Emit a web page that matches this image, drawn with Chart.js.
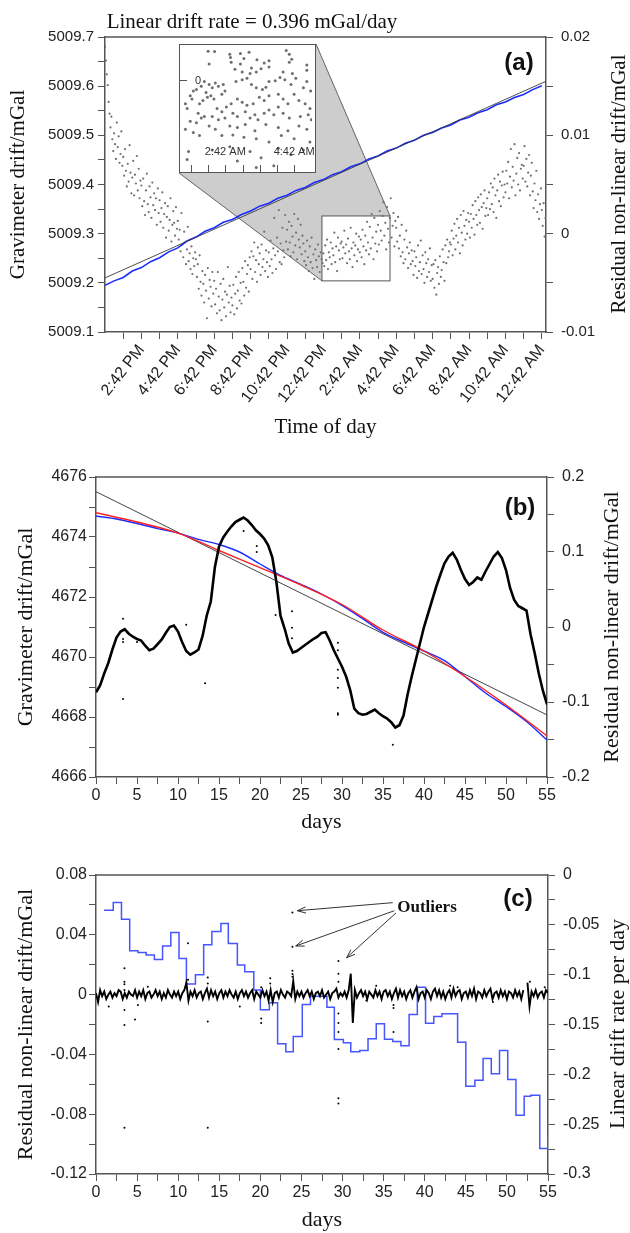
<!DOCTYPE html>
<html>
<head>
<meta charset="utf-8">
<script src="https://cdn.jsdelivr.net/npm/chart.js@4.4.1/dist/chart.umd.min.js"></script>
<style>
  html, body { margin: 0; padding: 0; background: #fff; }
  body { position: relative; width: 630px; height: 1233px; overflow: hidden; }
  canvas { position: absolute; left: 0; }
  .lbl { position: absolute; white-space: nowrap; transform: translate(-50%, -50%); color: #111; line-height: 1; }
  .serif { font-family: 'Liberation Serif', 'Times New Roman', serif; }
  .sans { font-family: 'Liberation Sans', Arial, sans-serif; }
  .up { transform: translate(-50%, -50%) rotate(-90deg); }
</style>
</head>
<body>
<canvas id="chartA" width="630" height="440" style="top:0"></canvas>
<canvas id="chartB" width="630" height="400" style="top:440px"></canvas>
<canvas id="chartC" width="630" height="393" style="top:840px"></canvas>
<canvas id="chartInset" width="10" height="10"></canvas>

<div class="lbl serif" style="left:252px;top:21px;font-size:21px">Linear drift rate = 0.396 mGal/day</div>
<div class="lbl sans" style="left:519px;top:62px;font-size:24px;font-weight:bold">(a)</div>
<div class="lbl serif up" style="left:618px;top:184px;font-size:21px">Residual non-linear drift/mGal</div>
<div class="lbl sans" style="left:520px;top:507px;font-size:24px;font-weight:bold">(b)</div>
<div class="lbl serif up" style="left:611px;top:627px;font-size:22px">Residual non-linear drift/mGal</div>
<div class="lbl sans" style="left:518px;top:898px;font-size:24px;font-weight:bold">(c)</div>
<div class="lbl serif" style="left:427px;top:906px;font-size:17px;font-weight:bold">Outliers</div>
<div class="lbl serif up" style="left:617px;top:1024px;font-size:22px">Linear drift rate per day</div>

<script>
// ---------- panel (a): one day, hours after 12:42 PM ----------
const hourTicksA = [1, 2, 3, 4, 5, 6, 7, 8, 9, 10, 11, 12, 13, 14, 15, 16, 17, 18, 19, 20, 21, 22, 23, 24];
const hourLabelsA = ["", "2:42 PM", "", "4:42 PM", "", "6:42 PM", "", "8:42 PM", "", "10:42 PM", "", "12:42 PM",
  "", "2:42 AM", "", "4:42 AM", "", "6:42 AM", "", "8:42 AM", "", "10:42 AM", "", "12:42 AM"];
const gravTicksA = [5009.1, 5009.15, 5009.2, 5009.25, 5009.3, 5009.35, 5009.4, 5009.45, 5009.5, 5009.55, 5009.6, 5009.65, 5009.7];
const gravLabelsA = ["5009.1", "", "5009.2", "", "5009.3", "", "5009.4", "", "5009.5", "", "5009.6", "", "5009.7"];
const residTicksA = [-0.01, -0.005, 0, 0.005, 0.01, 0.015, 0.02];
const residLabelsA = ["-0.01", "", "0", "", "0.01", "", "0.02"];

const driftStepHours = 0.5;
const driftA = [5009.195, 5009.204, 5009.211, 5009.224, 5009.231, 5009.243, 5009.251, 5009.263, 5009.271, 5009.285,
  5009.293, 5009.305, 5009.312, 5009.323, 5009.329, 5009.339, 5009.346, 5009.356, 5009.362, 5009.372,
  5009.378, 5009.388, 5009.394, 5009.404, 5009.41, 5009.42, 5009.426, 5009.436, 5009.442, 5009.452,
  5009.458, 5009.468, 5009.474, 5009.484, 5009.49, 5009.5, 5009.506, 5009.515, 5009.521, 5009.531,
  5009.537, 5009.546, 5009.552, 5009.562, 5009.568, 5009.577, 5009.583, 5009.593, 5009.601];
const fitHoursA = [0, 24.23];
const fitValuesA = [5009.21, 5009.61];

// residuals in microGal, one reading every 0.05 h
const dotStepHours = 0.05;
const dotResidA = [
  19, 17.6, 16.2, 15.1, 13.4, 12.2, 10.8, 11.9, 9.6, 8.4, 10.2, 9.1, 7.6, 11.3, 8.8, 9.9, 7.2, 8.1, 10.4, 6.9,
  7.8, 5.9, 8.6, 6.4, 4.8, 7.1, 5.3, 9.0, 6.2, 4.1, 5.7, 7.4, 3.9, 6.0, 5.1, 7.9, 4.4, 6.6, 3.6, 5.4,
  4.9, 2.8, 5.6, 3.3, 1.9, 4.4, 6.1, 3.0, 2.2, 4.8, 3.7, 1.6, 5.2, 2.9, 4.1, 2.4, 3.6, 0.9, 4.6, 2.1,
  3.4, 1.2, 2.6, 4.2, 0.6, 2.0, 3.1, -0.4, 1.7, 2.8, 0.3, 1.4, 3.6, -0.8, 0.9, 2.3, 1.1, -0.2, 2.7, 0.5,
  1.3, -0.6, 0.4, -1.8, 2.1, -1.1, -2.4, 0.2, -0.9, -3.1, -1.6, 0.7, -2.8, -2.0, -3.6, -1.3, -4.1, -2.5, -3.3, -1.9,
  -2.6, -4.4, -3.1, -5.6, -2.2, -4.9, -6.3, -3.8, -5.1, -7.0, -4.2, -5.8, -8.6, -3.5, -6.6, -4.7, -5.4, -7.4, -3.9, -6.1,
  -4.8, -7.2, -5.6, -8.1, -3.9, -6.4, -7.8, -5.1, -8.8, -6.7, -4.6, -7.5, -5.9, -8.4, -6.2, -3.4, -7.0, -5.3, -8.0, -6.5,
  -7.3, -5.2, -8.2, -6.1, -4.4, -7.6, -5.8, -3.9, -6.8, -5.0, -7.1, -3.5, -4.9, -6.3, -2.8, -5.5, -4.1, -3.2, -5.9, -2.4,
  -3.6, -1.8, -4.6, -2.3, -0.9, -3.9, -2.7, -4.9, -1.4, -3.1, -2.0, -4.2, -1.1, -3.4, -2.6, 0.2, -3.8, -1.7, -2.9, -4.4,
  -1.9, -3.3, -0.7, -2.6, -4.0, -1.5, 1.6, -2.2, -3.6, -0.4, -1.8, 2.4, -2.9, -1.0, -3.1, 0.6, -1.7, -2.4, 1.9, -0.8,
  0.4, -1.6, 1.2, -0.9, -2.3, 0.8, -0.3, -1.9, 2.0, -1.2, 0.1, -2.6, 1.5, -0.6, -1.4, 0.9, -2.1, -0.2, -1.0, -2.8,
  -1.8, -3.2, -0.7, -2.4, -3.8, -1.3, -2.9, -0.4, -3.5, -2.1, -4.6, -1.6, -2.7, -3.4, -1.1, -2.3, -3.9, -1.9, -2.6, -3.0,
  -2.0, -3.3, -1.2, -2.7, -0.6, -3.6, -1.9, -2.4, -0.9, -3.1, -1.5, -2.2, 0.1, -2.9, -1.3, -3.8, -0.4, -1.7, -2.6, -1.0,
  -0.8, -2.5, -1.4, 0.3, -2.0, -1.1, -3.0, -0.5, -1.8, -2.6, 0.6, -1.5, -3.4, -0.9, -2.2, -1.2, 0.0, -2.8, -1.6, -0.3,
  -1.9, -0.6, -2.4, 0.4, -1.3, -3.1, -0.2, -1.7, 1.2, -0.9, -2.1, 0.7, -1.5, 2.0, -0.4, -2.6, 1.6, -1.0, 0.2, -1.8,
  0.9, -1.1, 2.3, 0.3, -0.7, 1.8, 3.2, -0.2, 1.1, -1.6, 2.7, 0.5, -0.9, 1.6, 3.6, -0.4, 0.8, 2.1, -1.3, 1.3,
  0.6, -0.8, 1.7, -1.5, -0.2, -2.3, 0.9, -1.9, -3.0, -0.6, -2.6, 0.3, -1.4, -3.5, -2.0, -0.9, -3.1, -1.7, -2.8, -4.2,
  -1.8, -3.3, -2.4, -4.5, -1.2, -3.8, -2.9, -0.7, -4.1, -2.2, -3.6, -5.0, -1.9, -3.0, -4.4, -2.6, -3.9, -1.5, -4.8, -3.2,
  -4.6, -3.1, -5.5, -2.7, -6.2, -4.0, -3.4, -5.1, -2.3, -4.4, -3.7, -1.6, -2.9, -4.8, -1.2, -3.0, -0.6, -2.4, -1.8, -0.9,
  -1.1, 0.3, -2.2, -0.5, 1.0, -1.6, -0.2, 1.5, -0.9, 0.6, -2.0, 1.9, 0.1, -1.2, 2.3, 0.8, -0.6, 1.4, 0.0, 2.1,
  1.2, -0.4, 2.0, 0.6, 2.9, 1.5, -0.1, 3.3, 1.9, 0.9, 3.7, 2.4, 1.1, 4.0, 2.7, 0.5, 3.1, 4.4, 1.8, 2.6,
  3.6, 1.9, 4.2, 2.5, 5.1, 3.0, 4.7, 2.2, 5.6, 3.9, 1.6, 4.4, 6.0, 3.3, 5.3, 2.8, 4.9, 6.3, 3.7, 5.0,
  4.2, 6.4, 5.1, 7.3, 3.6, 5.8, 8.6, 4.7, 6.8, 5.4, 9.1, 3.9, 6.1, 7.7, 5.0, 8.2, 4.4, 6.6, 7.0, 5.6,
  6.9, 8.9, 5.3, 7.6, 4.8, 6.2, 8.0, 3.9, 5.9, 7.2, 4.3, 2.6, 5.1, 3.4, 6.4, 2.2, 4.0, 1.5, 3.0, 4.6,
  2.4, 0.8, 3.1, -0.3, 1.6];

// zoomed window and where the enlargement sits, both in panel (a) units (hours, mGal)
const zoomBox = { h0: 11.92, h1: 15.66, r0: -0.0048, r1: 0.0018 };
const insetPlace = { h0: 4.07, h1: 11.59, r0: 0.00617, r1: 0.0193 };

// inset: enlargement of the residuals
const insetTickHours = [13, 13.5, 14, 14.5, 15, 15.5, 16];
const insetLabelHours = [14, 16];
const insetLabels = ["2:42 AM", "4:42 AM"];
const insetHours = [13.50, 13.69, 14.13, 14.44, 14.69, 15.77, 15.86, 15.93, 14.15, 14.17, 14.54, 14.92, 15.13, 15.27, 15.86, 16.37,
  13.53, 14.44, 14.76, 15.04, 15.27, 15.68, 15.95, 16.37, 14.49, 14.72, 14.90, 14.28, 13.16, 13.07, 12.98, 13.30,
  13.39, 13.53, 13.62, 13.71, 13.80, 13.94, 13.99, 13.90, 13.44, 13.48, 13.58, 13.67, 13.35, 13.25, 13.03, 12.84,
  14.31, 14.49, 14.63, 14.76, 14.90, 15.08, 15.18, 15.27, 15.45, 15.59, 15.73, 15.91, 16.05, 16.27, 16.37, 16.48,
  12.89, 13.21, 13.30, 13.39, 13.16, 12.98, 12.84, 13.07, 13.25, 12.93, 12.89, 13.76, 13.90, 14.03, 14.17, 14.35,
  14.49, 14.63, 14.81, 14.99, 15.13, 15.27, 15.54, 15.68, 15.82, 16.00, 16.14, 16.32, 16.46, 13.62, 13.80, 13.99,
  14.22, 14.35, 14.58, 14.72, 14.86, 14.95, 15.13, 15.27, 15.41, 15.54, 15.68, 15.86, 16.18, 16.41, 16.50, 13.53,
  13.71, 14.13, 14.35, 14.58, 14.86, 15.18, 15.54, 15.82, 16.14, 16.37, 13.90, 14.22, 14.54, 14.90, 15.27, 15.63,
  16.00, 16.46, 13.62, 14.13, 14.72, 15.04, 15.54, 15.91, 16.27, 14.35, 15.41, 14.90];
const insetResid = [0.90, 0.89, 0.80, 0.83, 0.87, 0.92, 0.80, 0.65, 0.70, 0.55, 0.67, 0.63, 0.53, 0.60, 0.55, 0.47,
  0.50, 0.50, 0.37, 0.35, 0.40, 0.25, 0.20, 0.30, 0.25, 0.20, 0.25, 0.33, -0.30, -0.35, -0.50, -0.20,
  -0.05, -0.15, -0.25, -0.10, -0.20, -0.15, -0.35, -0.45, -0.40, -0.55, -0.50, -0.60, -0.65, -0.75, -0.60, -0.75,
  -0.05, 0.00, 0.05, -0.15, -0.25, -0.30, -0.23, -0.05, -0.03, 0.07, 0.00, -0.15, 0.05, -0.25, -0.05, -0.35,
  -0.90, -1.05, -1.20, -1.15, -1.35, -1.30, -1.55, -1.65, -1.75, -2.25, -2.50, -0.90, -1.00, -0.85, -0.75, -0.60,
  -0.70, -0.80, -0.75, -0.55, -0.65, -0.50, -0.45, -0.60, -0.75, -0.45, -0.65, -0.75, -0.90, -1.15, -1.25, -1.20,
  -1.05, -1.15, -1.00, -1.20, -1.10, -1.25, -1.05, -0.95, -1.10, -0.85, -1.05, -1.20, -1.15, -1.10, -1.25, -1.45,
  -1.55, -1.45, -1.50, -1.40, -1.60, -1.40, -1.50, -1.60, -1.45, -1.55, -1.75, -1.73, -1.80, -1.85, -1.95, -1.75,
  -1.85, -1.95, -2.20, -2.10, -2.25, -2.45, -2.15, -2.35, -2.20, -2.55, -2.70, -2.75];

// ---------- panel (b): 55 days ----------
const dayTicks = [0, 2.5, 5, 7.5, 10, 12.5, 15, 17.5, 20, 22.5, 25, 27.5, 30, 32.5, 35, 37.5, 40, 42.5, 45, 47.5, 50, 52.5, 55];
const dayLabels = ["0", "", "5", "", "10", "", "15", "", "20", "", "25", "", "30", "", "35", "", "40", "", "45", "", "50", "", "55"];
const gravTicksB = [4666, 4667, 4668, 4669, 4670, 4671, 4672, 4673, 4674, 4675, 4676];
const gravLabelsB = ["4666", "", "4668", "", "4670", "", "4672", "", "4674", "", "4676"];
const residTicksB = [-0.2, -0.15, -0.1, -0.05, 0, 0.05, 0.1, 0.15, 0.2];
const residLabelsB = ["-0.2", "", "-0.1", "", "0", "", "0.1", "", "0.2"];

const residStepDays = 0.5;
const residB = [-0.087, -0.078, -0.062, -0.048, -0.030, -0.014, -0.006, -0.003, -0.009, -0.013,
  -0.016, -0.018, -0.025, -0.031, -0.029, -0.023, -0.017, -0.008, 0.000, 0.002,
  -0.006, -0.020, -0.032, -0.037, -0.034, -0.030, -0.012, 0.015, 0.034, 0.080,
  0.107, 0.119, 0.127, 0.134, 0.140, 0.143, 0.146, 0.142, 0.136, 0.129,
  0.124, 0.118, 0.109, 0.093, 0.060, 0.015, -0.002, -0.022, -0.034, -0.032,
  -0.028, -0.024, -0.020, -0.016, -0.013, -0.008, -0.007, -0.018, -0.031, -0.042,
  -0.053, -0.066, -0.084, -0.109, -0.115, -0.117, -0.116, -0.113, -0.110, -0.115,
  -0.119, -0.122, -0.127, -0.134, -0.131, -0.118, -0.090, -0.066, -0.044, -0.022,
  0.000, 0.018, 0.036, 0.054, 0.070, 0.085, 0.094, 0.099, 0.090, 0.076,
  0.064, 0.056, 0.060, 0.066, 0.063, 0.074, 0.084, 0.094, 0.100, 0.092,
  0.076, 0.052, 0.036, 0.028, 0.025, 0.022, -0.010, -0.035, -0.062, -0.085, -0.103];
const outlierDaysB = [3.3, 3.3, 3.3, 3.3, 5.0, 11.0, 13.3, 18.0, 19.6, 19.6, 21.9, 23.9, 23.9, 23.9,
  29.5, 29.5, 29.5, 29.5, 29.5, 29.5, 29.5, 36.2];
const outlierResidB = [0.011, -0.016, -0.02, -0.096, -0.02, 0.003, -0.075, 0.128, 0.108, 0.1, 0.016, 0.021, -0.001, -0.015,
  -0.021, -0.031, -0.057, -0.068, -0.081, -0.115, -0.117, -0.157];

const polyDaysB = [0, 5, 10, 15, 20, 25, 30, 35, 40, 45, 50, 55];
const polyGravB = [4674.81, 4674.5, 4674.13, 4673.55, 4672.98, 4672.4, 4671.75, 4670.9, 4670.2, 4669.35, 4668.4, 4667.37];
const driftDaysB = [0, 2.5, 5, 7.5, 10, 12.5, 15, 17.5, 20, 22.5, 25, 27.5, 30, 32.5, 35, 37.5, 40, 42.5, 45, 47.5, 50, 52.5, 55];
const driftGravB = [4674.7, 4674.6, 4674.45, 4674.28, 4674.13, 4673.92, 4673.75, 4673.5, 4673.1, 4672.72, 4672.42, 4672.1,
  4671.72, 4671.28, 4670.82, 4670.5, 4670.2, 4669.88, 4669.35, 4668.8, 4668.35, 4667.85, 4667.23];
const fitDaysB = [0, 55];
const fitGravB = [4675.51, 4668.07];

// ---------- panel (c) ----------
const residTicksC = [-0.12, -0.1, -0.08, -0.06, -0.04, -0.02, 0, 0.02, 0.04, 0.06, 0.08];
const residLabelsC = ["-0.12", "", "-0.08", "", "-0.04", "", "0", "", "0.04", "", "0.08"];
const rateTicksC = [-0.3, -0.275, -0.25, -0.225, -0.2, -0.175, -0.15, -0.125, -0.1, -0.075, -0.05, -0.025, 0];
const rateLabelsC = ["-0.3", "", "-0.25", "", "-0.2", "", "-0.15", "", "-0.1", "", "-0.05", "", "0"];

// residual after removing drift, microGal every 0.25 day (null = gap in record)
const noiseStepDays = 0.25;
const noiseC = [
  1, -5, 3, -1, 2, -3, 0, 2, -2, 1, -1, 3, 2, -3, 1, -2, 2, 0, -1, 3,
  -2, 2, -1, 3, -3, 1, 2, -2, 0, 3, -1, 2, -3, 1, -2, 3, 0, -2, 2, -1,
  2, -3, 1, 3, 8, -4, 2, -1, 3, -2, 1, 2, -3, 1, 4, -2, 3, -1, 2, -3,
  1, 3, -2, 2, -1, 3, 0, -2, 2, -3, 1, 3, -1, 2, -2, 1, 3, -3, 2, 0,
  -2, 3, -1, 2, -4, 3, -5, 1, 2, -2, 3, 0, -2, 2, 1, -1, 9, -3, 2, -1,
  2, -2, 1, 3, -1, 2, -3, 1, 2, -1, 3, -2, 0, 2, -3, 1, 2, 4, -2, 1,
  -1, 2, -2, 3, 14, -19, 3, -2, 1, 3, -1, 2, -3, 2, 0, -2, 3, -1, 2, -3,
  2, 3, -1, 2, -3, 1, 4, -2, 3, -1, 2, -3, 1, 3, -2, 2, 5, -3, 1, 2,
  -2, 3, 1, -3, 2, 4, -1, 3, -2, 2, -3, 1, 3, -2, 4, -1, 2, 3, -3, 1,
  2, -2, 3, -1, 4, -3, 2, 1, -2, 3, -1, 2, 4, -3, 1, 2, -2, 3, -1, 2,
  -3, 2, 1, -2, 3, -1, 2, -3, 3, null, 8, -8, 2, -1, 3, -2, 1, 2, -2, 3,
  1];
const outlierDaysC = [3.46, 3.46, 3.46, 3.46, 3.46, 3.46, 3.46, 1.55, 4.75, 5.1, 6.3, 11.2, 11.2, 13.6, 13.6, 13.6, 13.6,
  17.5, 20.1, 20.1, 20.1, 21.2, 21.2, 23.9, 23.9, 23.9, 23.9, 23.9, 29.5, 29.5, 29.5, 29.5, 29.5, 29.5, 29.5, 29.5, 29.5,
  32.9, 34.1, 36.2, 36.2, 36.2, 43.1, 44, 48.3, 52.8, 54.6];
const outlierResidC = [0.0176, 0.0086, 0.0069, 0.0031, -0.0103, -0.0203, -0.089, -0.008, -0.0166, -0.007, 0.0053, 0.0343, 0.01,
  0.0115, 0.0075, -0.018, -0.089, -0.008, 0.005, -0.016, -0.019, 0.011, 0.0075, 0.055, 0.032, 0.016, 0.0138, 0.012,
  0.0225, 0.014, 0.0086, -0.0126, -0.019, -0.025, -0.0364, -0.0694, -0.0728, -0.004, 0.006, -0.007, -0.009, -0.025,
  0.006, 0.005, -0.005, 0.0086, 0.005];

const stepDaysC = [0.98, 2.1, 3.1, 4.1, 5.1, 6.1, 7.1, 8.1, 9.1, 10.1, 11.0, 12.1, 13.1, 14.1, 15.2, 16.1, 17.2, 18.1,
  19.2, 20.0, 21.1, 22.1, 23.1, 24.0, 25.1, 26.1, 27.1, 28.1, 29.0, 30.1, 31.0, 32.1, 33.1, 34.1, 35.1, 36.1,
  37.1, 38.1, 39.1, 40.1, 41.1, 42.1, 44.0, 45.0, 46.1, 47.1, 48.1, 49.1, 50.1, 51.1, 52.1, 52.9, 54.0, 55];
const stepRatesC = [-0.0353, -0.0277, -0.0443, -0.076, -0.0777, -0.0803, -0.0847, -0.0713, -0.0577, -0.0837, -0.1093, -0.1,
  -0.07, -0.0567, -0.0487, -0.0687, -0.0903, -0.097, -0.1153, -0.1353, -0.1283, -0.1693, -0.1773, -0.162, -0.13,
  -0.1217, -0.1217, -0.1327, -0.165, -0.1683, -0.1773, -0.176, -0.1643, -0.1493, -0.1647, -0.167, -0.1713, -0.14,
  -0.1127, -0.1487, -0.142, -0.1393, -0.1677, -0.212, -0.206, -0.184, -0.1993, -0.176, -0.2053, -0.241, -0.222,
  -0.221, -0.2743, -0.261];

// arrows from the "Outliers" note: [day, mGal] tail -> head
const arrowTailsC = [[36.1, 0.0615], [36.3, 0.0561], [36.5, 0.0546]];
const arrowHeadsC = [[24.5, 0.0561], [24.3, 0.0325], [30.5, 0.0247]];

// ---------- drawing ----------
Chart.defaults.font.family = "'Liberation Sans', Arial, sans-serif";
Chart.defaults.color = "#222";
const SERIF = "'Liberation Serif', 'Times New Roman', serif";
const AXIS = "#555";

const pts = (xs, ys) => xs.map((x, i) => ({ x, y: ys[i] }));

const axisY = (position, min, max, tickValues, tickLabels, width, size, padding, title) => ({
  type: "linear",
  position,
  min,
  max,
  afterFit: (s) => { s.width = width; },
  afterBuildTicks: (s) => { s.ticks = tickValues.map((v) => ({ value: v })); },
  ticks: { autoSkip: false, callback: (v, i) => tickLabels[i], font: { size }, color: "#222", padding },
  grid: { drawOnChartArea: false, tickLength: 7, color: AXIS },
  border: { color: AXIS, width: 1.5 },
  title: title
    ? { display: true, text: title.text, font: { family: SERIF, size: title.size }, color: "#111", padding: title.pad }
    : { display: false },
});

const axisX = (min, max, tickValues, tickLabels, height, size, rotation, title) => ({
  type: "linear",
  position: "bottom",
  min,
  max,
  afterFit: (s) => { s.height = height; },
  afterBuildTicks: (s) => { s.ticks = tickValues.map((v) => ({ value: v })); },
  ticks: {
    autoSkip: false,
    callback: (v, i) => tickLabels[i],
    font: { size },
    color: "#222",
    padding: 2,
    minRotation: rotation,
    maxRotation: rotation,
  },
  grid: { drawOnChartArea: false, tickLength: 7, color: AXIS },
  border: { color: AXIS, width: 1.5 },
  title: { display: true, text: title.text, font: { family: SERIF, size: title.size }, color: "#111", padding: title.pad },
});

const topBorder = {
  id: "topBorder",
  afterDraw(chart) {
    const { ctx, chartArea: a } = chart;
    ctx.save();
    ctx.strokeStyle = AXIS;
    ctx.lineWidth = 1.5;
    ctx.beginPath();
    ctx.moveTo(a.left, a.top);
    ctx.lineTo(a.right, a.top);
    ctx.stroke();
    ctx.restore();
  },
};

const zoomLinks = {
  id: "zoomLinks",
  beforeDatasetsDraw(chart) {
    const { ctx } = chart;
    const x = chart.scales.x;
    const y = chart.scales.y1;
    const p = (h, r) => [x.getPixelForValue(h), y.getPixelForValue(r)];
    const iBL = p(insetPlace.h0, insetPlace.r0);
    const iTR = p(insetPlace.h1, insetPlace.r1);
    const zBL = p(zoomBox.h0, zoomBox.r0);
    const zTR = p(zoomBox.h1, zoomBox.r1);
    ctx.save();
    ctx.beginPath();
    ctx.moveTo(iBL[0], iBL[1]);
    ctx.lineTo(zBL[0], zBL[1]);
    ctx.lineTo(zTR[0], zTR[1]);
    ctx.lineTo(iTR[0], iTR[1]);
    ctx.closePath();
    ctx.fillStyle = "#cdcdcd";
    ctx.fill();
    ctx.strokeStyle = "#555";
    ctx.lineWidth = 0.9;
    ctx.beginPath();
    ctx.moveTo(iBL[0], iBL[1]);
    ctx.lineTo(zBL[0], zBL[1]);
    ctx.moveTo(iTR[0], iTR[1]);
    ctx.lineTo(zTR[0], zTR[1]);
    ctx.stroke();
    ctx.fillStyle = "#fff";
    ctx.fillRect(zBL[0], zTR[1], zTR[0] - zBL[0], zBL[1] - zTR[1]);
    ctx.lineWidth = 1;
    ctx.strokeRect(zBL[0], zTR[1], zTR[0] - zBL[0], zBL[1] - zTR[1]);
    ctx.restore();
  },
};

const baseOptions = (padTop, scales) => ({
  responsive: false,
  animation: false,
  devicePixelRatio: 1,
  events: [],
  layout: { padding: { top: padTop, left: 0, right: 0, bottom: 0 } },
  plugins: { legend: { display: false }, tooltip: { enabled: false } },
  scales,
});

// panel (a)
const chartA = new Chart(document.getElementById("chartA"), {
  type: "scatter",
  data: {
    datasets: [
      { data: pts(fitHoursA, fitValuesA), yAxisID: "y", showLine: true, borderColor: "#3a3a3a", borderWidth: 0.9, pointRadius: 0 },
      {
        data: driftA.map((v, i) => ({ x: i * driftStepHours, y: v })),
        yAxisID: "y",
        showLine: true,
        borderColor: "#1a2cff",
        borderWidth: 1.6,
        pointRadius: 0,
      },
      {
        data: dotResidA.map((v, i) => ({ x: i * dotStepHours, y: v / 1000 })),
        yAxisID: "y1",
        pointRadius: 1.1,
        backgroundColor: "#707070",
        borderWidth: 0,
      },
    ],
  },
  options: baseOptions(37, {
    x: axisX(0, 24.23, hourTicksA, hourLabelsA, 108, 16, 52, { text: "Time of day", size: 21, pad: 0 }),
    y: axisY("left", 5009.1, 5009.7, gravTicksA, gravLabelsA, 105, 15, 4, { text: "Gravimeter drift/mGal", size: 21, pad: 6 }),
    y1: axisY("right", -0.01, 0.02, residTicksA, residLabelsA, 84, 15, 8),
  }),
  plugins: [zoomLinks, topBorder],
});

// inset placed over panel (a)
const insetFrame = {
  id: "insetFrame",
  beforeDraw(chart) {
    const { ctx, width, height } = chart;
    ctx.save();
    ctx.fillStyle = "#fff";
    ctx.fillRect(0, 0, width, height);
    ctx.restore();
  },
  afterDraw(chart) {
    const { ctx, width, height } = chart;
    const x = chart.scales.x;
    const y = chart.scales.y;
    ctx.save();
    ctx.strokeStyle = "#555";
    ctx.lineWidth = 1;
    ctx.strokeRect(0.5, 0.5, width - 1, height - 1);
    ctx.beginPath();
    insetTickHours.forEach((h) => {
      const px = Math.round(x.getPixelForValue(h)) + 0.5;
      ctx.moveTo(px, height);
      ctx.lineTo(px, height - 8);
    });
    const y0 = Math.round(y.getPixelForValue(0)) + 0.5;
    ctx.moveTo(0, y0);
    ctx.lineTo(8, y0);
    ctx.stroke();
    ctx.fillStyle = "#333";
    ctx.font = "11px 'Liberation Sans', Arial, sans-serif";
    ctx.textBaseline = "middle";
    ctx.textAlign = "left";
    ctx.fillText("0", 16, y0);
    ctx.textAlign = "center";
    insetLabelHours.forEach((h, i) => {
      ctx.fillText(insetLabels[i], x.getPixelForValue(h), height - 21);
    });
    ctx.restore();
  },
};

const sx = chartA.scales.x;
const sr = chartA.scales.y1;
const insL = Math.round(sx.getPixelForValue(insetPlace.h0));
const insR = Math.round(sx.getPixelForValue(insetPlace.h1));
const insT = Math.round(sr.getPixelForValue(insetPlace.r1));
const insB = Math.round(sr.getPixelForValue(insetPlace.r0));
const insetCanvas = document.getElementById("chartInset");
insetCanvas.width = insR - insL;
insetCanvas.height = insB - insT;
insetCanvas.style.left = insL + "px";
insetCanvas.style.top = insT + "px";

new Chart(insetCanvas, {
  type: "scatter",
  data: {
    datasets: [
      { data: insetHours.map((h, i) => ({ x: h, y: insetResid[i] / 1000 })), pointRadius: 1.5, backgroundColor: "#6e6e6e", borderWidth: 0 },
    ],
  },
  options: {
    responsive: false,
    animation: false,
    devicePixelRatio: 1,
    events: [],
    layout: { padding: 0 },
    plugins: { legend: { display: false }, tooltip: { enabled: false } },
    scales: {
      x: { type: "linear", display: false, min: 12.77, max: 16.52 },
      y: { type: "linear", display: false, min: -0.0028, max: 0.001 },
    },
  },
  plugins: [insetFrame],
});

// panel (b)
new Chart(document.getElementById("chartB"), {
  type: "scatter",
  data: {
    datasets: [
      {
        data: residB.map((v, i) => ({ x: i * residStepDays, y: v })),
        yAxisID: "y1",
        showLine: true,
        borderColor: "#000",
        borderWidth: 2.6,
        pointRadius: 0,
      },
      { data: pts(outlierDaysB, outlierResidB), yAxisID: "y1", pointRadius: 1, backgroundColor: "#000", borderWidth: 0 },
      {
        data: pts(polyDaysB, polyGravB),
        yAxisID: "y",
        showLine: true,
        borderColor: "#ff2020",
        borderWidth: 1.4,
        pointRadius: 0,
        cubicInterpolationMode: "monotone",
      },
      {
        data: pts(driftDaysB, driftGravB),
        yAxisID: "y",
        showLine: true,
        borderColor: "#1a2cff",
        borderWidth: 1.4,
        pointRadius: 0,
        cubicInterpolationMode: "monotone",
      },
      { data: pts(fitDaysB, fitGravB), yAxisID: "y", showLine: true, borderColor: "#444", borderWidth: 1, pointRadius: 0 },
    ],
  },
  options: baseOptions(37, {
    x: axisX(0, 55, dayTicks, dayLabels, 63, 16, 0, { text: "days", size: 22, pad: 5 }),
    y: axisY("left", 4666, 4676, gravTicksB, gravLabelsB, 96, 16, 2, { text: "Gravimeter drift/mGal", size: 22, pad: 13 }),
    y1: axisY("right", -0.2, 0.2, residTicksB, residLabelsB, 83, 16, 8),
  }),
  plugins: [topBorder],
});

// panel (c)
const outlierArrows = {
  id: "outlierArrows",
  afterDatasetsDraw(chart) {
    const { ctx } = chart;
    const x = chart.scales.x;
    const y = chart.scales.y;
    ctx.save();
    ctx.strokeStyle = "#333";
    ctx.lineWidth = 1;
    arrowTailsC.forEach((tail, i) => {
      const tx = x.getPixelForValue(tail[0]);
      const ty = y.getPixelForValue(tail[1]);
      const hx = x.getPixelForValue(arrowHeadsC[i][0]);
      const hy = y.getPixelForValue(arrowHeadsC[i][1]);
      const ang = Math.atan2(ty - hy, tx - hx);
      ctx.beginPath();
      ctx.moveTo(tx, ty);
      ctx.lineTo(hx, hy);
      ctx.moveTo(hx + 9 * Math.cos(ang + 0.35), hy + 9 * Math.sin(ang + 0.35));
      ctx.lineTo(hx, hy);
      ctx.lineTo(hx + 9 * Math.cos(ang - 0.35), hy + 9 * Math.sin(ang - 0.35));
      ctx.stroke();
    });
    ctx.restore();
  },
};

new Chart(document.getElementById("chartC"), {
  type: "scatter",
  data: {
    datasets: [
      {
        data: noiseC.map((v, i) => ({ x: i * noiseStepDays, y: v === null ? null : v / 1000 })),
        yAxisID: "y",
        showLine: true,
        borderColor: "#000",
        borderWidth: 1.9,
        pointRadius: 0,
      },
      { data: pts(outlierDaysC, outlierResidC), yAxisID: "y", pointRadius: 1, backgroundColor: "#000", borderWidth: 0 },
      {
        data: pts(stepDaysC, stepRatesC),
        yAxisID: "y1",
        showLine: true,
        stepped: true,
        borderColor: "#4656ff",
        borderWidth: 1.5,
        pointRadius: 0,
      },
    ],
  },
  options: baseOptions(35, {
    x: axisX(0, 55, dayTicks, dayLabels, 59, 16, 0, { text: "days", size: 22, pad: 0 }),
    y: axisY("left", -0.12, 0.08, residTicksC, residLabelsC, 96, 16, 2, { text: "Residual non-linear drift/mGal", size: 22, pad: 13 }),
    y1: axisY("right", -0.3, 0, rateTicksC, rateLabelsC, 82, 16, 8),
  }),
  plugins: [outlierArrows, topBorder],
});
</script>
</body>
</html>
